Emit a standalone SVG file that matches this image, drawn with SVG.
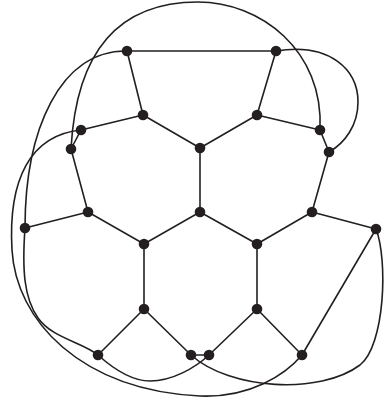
<svg xmlns="http://www.w3.org/2000/svg" width="385" height="404" viewBox="0 0 385 404">
<style>
.e{fill:none;stroke:#231f20;stroke-width:1.6;stroke-linecap:round}
.n{fill:#231f20}
</style>
<rect width="385" height="404" fill="#fff"/>
<g id="connectors" class="e">
<line x1="127" y1="51" x2="276" y2="51"/>
<line x1="127" y1="51" x2="143" y2="115"/>
<line x1="276" y1="51" x2="257" y2="115"/>
<line x1="143" y1="115" x2="200" y2="148"/>
<line x1="257" y1="115" x2="200" y2="148"/>
<line x1="143" y1="115" x2="81" y2="130"/>
<line x1="257" y1="115" x2="320" y2="130"/>
<line x1="81" y1="130" x2="71" y2="149"/>
<line x1="320" y1="130" x2="329" y2="152"/>
<line x1="71" y1="149" x2="88" y2="212"/>
<line x1="329" y1="152" x2="312" y2="212"/>
<line x1="200" y1="148" x2="200" y2="212"/>
<line x1="88" y1="212" x2="144" y2="244"/>
<line x1="200" y1="212" x2="144" y2="244"/>
<line x1="200" y1="212" x2="257" y2="244"/>
<line x1="312" y1="212" x2="257" y2="244"/>
<line x1="312" y1="212" x2="376" y2="229"/>
<line x1="25" y1="228" x2="88" y2="212"/>
<line x1="144" y1="244" x2="144" y2="309"/>
<line x1="257" y1="244" x2="257" y2="309"/>
<line x1="144" y1="309" x2="98" y2="355"/>
<line x1="144" y1="309" x2="191" y2="355"/>
<line x1="257" y1="309" x2="209" y2="355"/>
<line x1="257" y1="309" x2="302" y2="355"/>
<line x1="302" y1="355" x2="376" y2="229"/>
<line x1="191" y1="355" x2="209" y2="355"/>
<path d="M71,149 C76,56 115,2 198,2 C260,2 324,50 320,130"/>
<path d="M276,51 C330,42 358,70 358,102 C358,125 345,143 329,152"/>
<path d="M127,51 C60,50 25,130 25,228 C22,270 24,298 38,318 C52,338 82,342 98,355"/>
<path d="M98,355 C108,364 128,381 150,381 C172,381 195,368 209,355"/>
<path d="M81,130 C30,135 8,180 12,250 C16,320 80,390 200,396 C250,398 285,375 302,355"/>
<path d="M191,355 C230,390 320,395 360,365 C385,345 388,260 376,229"/>
</g>
<g id="node-A" class="n"><circle cx="127" cy="51" r="5.3"/></g>
<g id="node-B" class="n"><circle cx="276" cy="51" r="5.3"/></g>
<g id="node-C" class="n"><circle cx="143" cy="115" r="5.3"/></g>
<g id="node-D" class="n"><circle cx="257" cy="115" r="5.3"/></g>
<g id="node-E" class="n"><circle cx="200" cy="148" r="5.3"/></g>
<g id="node-F" class="n"><circle cx="81" cy="130" r="5.3"/></g>
<g id="node-G" class="n"><circle cx="71" cy="149" r="5.3"/></g>
<g id="node-H" class="n"><circle cx="320" cy="130" r="5.3"/></g>
<g id="node-I" class="n"><circle cx="329" cy="152" r="5.3"/></g>
<g id="node-J" class="n"><circle cx="88" cy="212" r="5.3"/></g>
<g id="node-K" class="n"><circle cx="200" cy="212" r="5.3"/></g>
<g id="node-L" class="n"><circle cx="312" cy="212" r="5.3"/></g>
<g id="node-M" class="n"><circle cx="25" cy="228" r="5.3"/></g>
<g id="node-N" class="n"><circle cx="376" cy="229" r="5.3"/></g>
<g id="node-O" class="n"><circle cx="144" cy="244" r="5.3"/></g>
<g id="node-P" class="n"><circle cx="257" cy="244" r="5.3"/></g>
<g id="node-Q" class="n"><circle cx="144" cy="309" r="5.3"/></g>
<g id="node-R" class="n"><circle cx="257" cy="309" r="5.3"/></g>
<g id="node-S" class="n"><circle cx="98" cy="355" r="5.3"/></g>
<g id="node-T" class="n"><circle cx="191" cy="355" r="5.3"/></g>
<g id="node-U" class="n"><circle cx="209" cy="355" r="5.3"/></g>
<g id="node-V" class="n"><circle cx="302" cy="355" r="5.3"/></g>
</svg>
